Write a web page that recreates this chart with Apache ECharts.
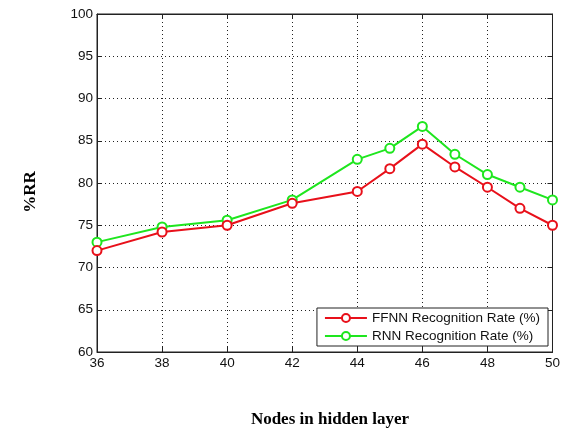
<!DOCTYPE html>
<html><head><meta charset="utf-8">
<script src="https://cdn.jsdelivr.net/npm/echarts@6/dist/echarts.min.js"></script>
<style>html,body{margin:0;padding:0;background:#fff}#c{width:563px;height:432px}</style>
</head><body><div id="c"></div>
<script>
var nodes = [36, 38, 40, 42, 44, 45, 46, 47, 48, 49, 50];
var ffnn = [72.0, 74.2, 75.0, 77.6, 79.0, 81.7, 84.6, 81.9, 79.5, 77.0, 75.0];
var rnn  = [73.0, 74.8, 75.6, 78.0, 82.8, 84.1, 86.7, 83.4, 81.0, 79.5, 78.0];
var seriesNames = ['FFNN Recognition Rate (%)', 'RNN Recognition Rate (%)'];
var xTitle = 'Nodes in hidden layer';
var yTitle = '%RR';

function pairs(xs, ys){ return xs.map(function(x,i){ return [x, ys[i]]; }); }
var font = 'Liberation Sans, Arial, sans-serif';
var chart = echarts.init(document.getElementById('c'));
var grid = {left:97, right:9, top:14, bottom:80, show:true, borderColor:'#222', borderWidth:1, backgroundColor:'#fff'};
var split = {show:true, lineStyle:{type:[1,3], color:'#222', width:1}};
chart.setOption({
  animation:false,
  grid: grid,
  xAxis: [{
    type:'value', min:36, max:50, interval:2, position:'bottom',
    axisLine:{show:true, lineStyle:{color:'#222'}},
    axisTick:{show:true, inside:true, length:5, lineStyle:{color:'#222'}},
    axisLabel:{color:'#111', fontFamily:font, fontSize:13.5, margin:4},
    splitLine: split
  },{
    type:'value', min:36, max:50, interval:2, position:'top',
    axisLine:{show:true, lineStyle:{color:'#222'}},
    axisTick:{show:true, inside:true, length:5, lineStyle:{color:'#222'}},
    axisLabel:{show:false}, splitLine:{show:false}
  }],
  yAxis: [{
    type:'value', min:60, max:100, interval:5, position:'left',
    axisLine:{show:true, lineStyle:{color:'#222'}},
    axisTick:{show:true, inside:true, length:5, lineStyle:{color:'#222'}},
    axisLabel:{color:'#111', fontFamily:font, fontSize:13.5, margin:4},
    splitLine: split
  },{
    type:'value', min:60, max:100, interval:5, position:'right',
    axisLine:{show:true, lineStyle:{color:'#222'}},
    axisTick:{show:true, inside:true, length:5, lineStyle:{color:'#222'}},
    axisLabel:{show:false}, splitLine:{show:false}
  }],
  legend: {
    right: 15, bottom: 86, orient:'vertical',
    backgroundColor:'#fff', borderColor:'#222', borderWidth:1, borderRadius:0,
    padding:[3,8,3,7], itemGap:4, itemWidth:42, itemHeight:10,
    textStyle:{color:'#111', fontFamily:font, fontSize:13.5},
    data: seriesNames
  },
  graphic: [
    {type:'text', x:330, y:420, style:{text:xTitle, font:'bold 17px "Liberation Serif", "Times New Roman", serif', fill:'#000', align:'center', verticalAlign:'middle'}},
    {type:'text', x:31, y:192, rotation:Math.PI/2, style:{text:yTitle, font:'bold 17px "Liberation Serif", "Times New Roman", serif', fill:'#000', align:'center', verticalAlign:'middle'}}
  ],
  series: [{
    name: seriesNames[0], type:'line', data: pairs(nodes, ffnn),
    symbol:'emptyCircle', symbolSize:9, showAllSymbol:true,
    lineStyle:{color:'#e8101a', width:2}, itemStyle:{color:'#e8101a', borderWidth:1.5}, z:3
  },{
    name: seriesNames[1], type:'line', data: pairs(nodes, rnn),
    symbol:'emptyCircle', symbolSize:9, showAllSymbol:true,
    lineStyle:{color:'#1ee61e', width:2}, itemStyle:{color:'#1ee61e', borderWidth:1.5}, z:2
  }]
});
</script></body></html>
